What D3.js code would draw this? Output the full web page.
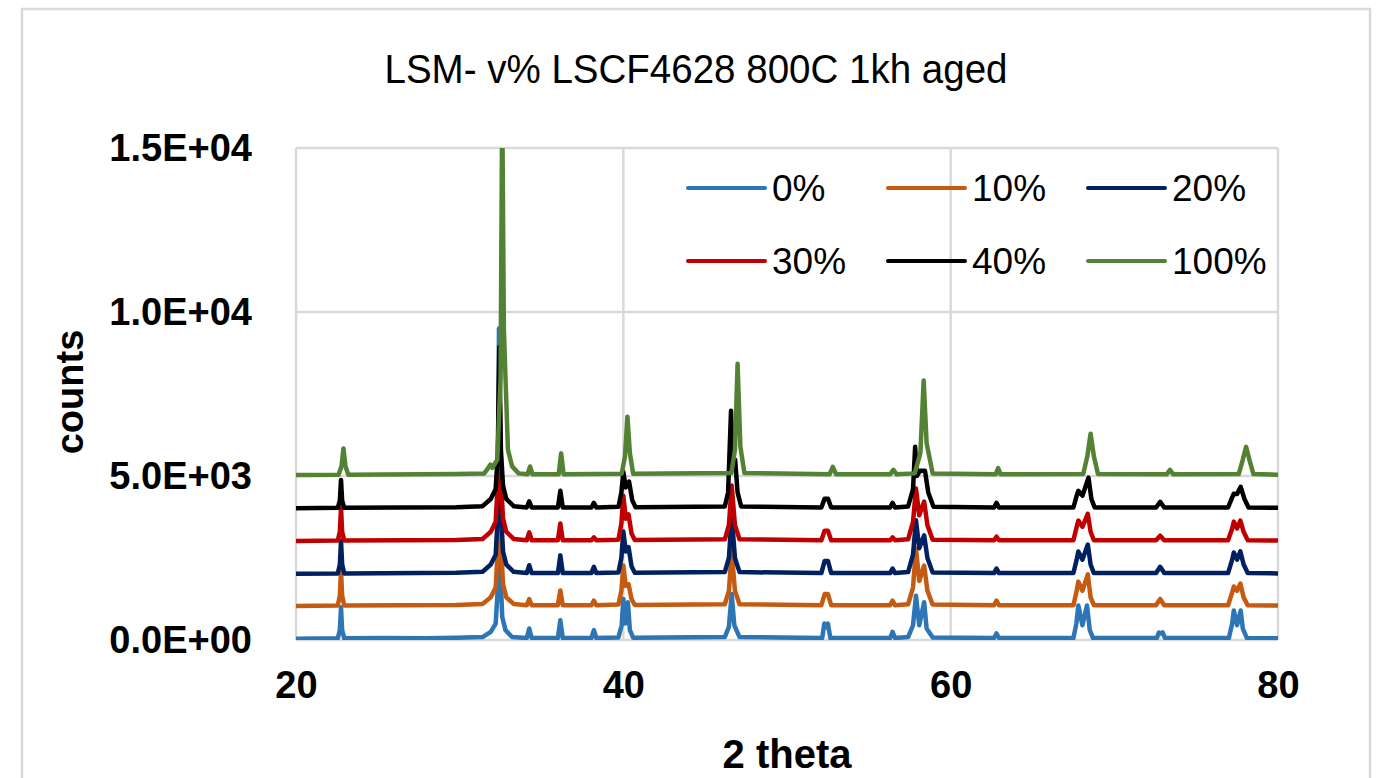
<!DOCTYPE html>
<html>
<head>
<meta charset="utf-8">
<script src="https://cdn.jsdelivr.net/npm/d3@7"></script>
<style>
    body { margin: 0; background: #fff; }
    svg { display: block; }
    text { font-family: "Liberation Sans", Arial, sans-serif; fill: #000; }
</style>
</head>
<body>
<div id="chart"></div>
<script>
// series names + colours (drawn in this order)
var seriesNames = ["0%", "10%", "20%", "30%", "40%", "100%"];
var seriesColors = ["#2e75b6", "#c55a11", "#002060", "#c00000", "#000000", "#548235"];

// axis ticks
var xTicks = [20, 40, 60, 80];
var yTicks = [0, 5000, 10000, 15000];
var yTickLabels = ["0.0E+00", "5.0E+03", "1.0E+04", "1.5E+04"];

// [2 theta, counts], each pattern offset by ~1000
var s0 = [[20,40],[22.55,50],[22.68,300],[22.75,1000],[22.82,300],[22.95,50],
    [25.3,60],[27.9,50],[29.8,70],[31.4,90],[31.9,250],[32.2,500],[32.32,1500],[32.4,9500],[32.5,2000],[32.6,700],[32.8,300],[33.2,90],
    [34.1,60],[34.25,350],[34.4,60],
    [36.0,60],[36.15,600],[36.3,60],
    [38.05,60],[38.2,300],[38.35,60],
    [39.7,80],[39.9,450],[40.0,1250],[40.12,500],[40.28,1150],[40.4,300],[40.6,70],
    [46.2,90],[46.45,400],[46.62,1400],[46.78,450],[47.1,90],
    [52.15,60],[52.28,500],[52.38,380],[52.5,500],[52.65,60],
    [56.3,60],[56.45,250],[56.6,60],
    [57.4,90],[57.7,450],[57.88,1350],[58.08,450],[58.38,1150],[58.53,350],[58.9,80],
    [62.65,60],[62.8,200],[62.95,60],
    [67.5,60],[67.68,500],[67.8,1050],[68.05,450],[68.33,1050],[68.5,300],[68.7,60],
    [72.6,60],[72.72,230],[72.85,200],[72.95,230],[73.1,60],
    [77.0,60],[77.2,500],[77.3,900],[77.5,450],[77.72,900],[77.85,350],[78.1,60],
    [80,50]];

var s10 = [[20,1040],[22.55,1050],[22.68,1350],[22.75,2120],[22.82,1350],[22.95,1050],
    [29.8,1070],[31.4,1100],[31.9,1300],[32.2,1600],[32.33,2800],[32.42,7800],[32.52,3000],[32.65,1700],[32.85,1300],[33.3,1100],
    [34.1,1060],[34.25,1250],[34.4,1060],
    [36.0,1060],[36.15,1510],[36.3,1060],
    [38.05,1060],[38.2,1200],[38.35,1060],
    [39.7,1080],[39.88,1500],[40.0,2270],[40.15,1650],[40.32,1700],[40.5,1250],[40.7,1070],
    [46.2,1090],[46.45,1500],[46.62,2700],[46.82,1500],[47.1,1090],
    [52.1,1060],[52.3,1400],[52.5,1400],[52.7,1060],
    [56.3,1060],[56.45,1200],[56.6,1060],
    [57.4,1090],[57.7,1600],[57.88,2790],[58.08,1800],[58.38,2270],[58.58,1500],[58.9,1080],
    [62.65,1060],[62.8,1200],[62.95,1060],
    [67.5,1060],[67.7,1500],[67.8,1780],[68.05,1500],[68.38,2000],[68.55,1300],[68.75,1060],
    [72.55,1060],[72.8,1250],[73.05,1060],
    [76.95,1060],[77.2,1450],[77.3,1630],[77.5,1500],[77.7,1720],[77.9,1300],[78.15,1060],
    [80,1050]];

var s20 = [[20,2020],[22.55,2030],[22.68,2300],[22.75,3030],[22.82,2300],[22.95,2030],
    [29.8,2050],[31.4,2080],[31.9,2300],[32.2,2600],[32.33,3800],[32.42,7300],[32.52,3900],[32.65,2700],[32.85,2300],[33.3,2080],
    [34.1,2040],[34.25,2280],[34.4,2040],
    [36.0,2040],[36.15,2580],[36.3,2040],
    [38.05,2040],[38.2,2230],[38.35,2040],
    [39.7,2060],[39.88,2500],[40.0,3310],[40.15,2700],[40.32,2830],[40.5,2250],[40.7,2050],
    [46.2,2070],[46.45,2500],[46.62,3800],[46.82,2500],[47.1,2070],
    [52.1,2040],[52.3,2410],[52.5,2410],[52.7,2040],
    [56.3,2040],[56.45,2180],[56.6,2040],
    [57.4,2070],[57.7,2600],[57.88,3650],[58.08,2800],[58.38,3190],[58.58,2500],[58.9,2060],
    [62.65,2040],[62.8,2180],[62.95,2040],
    [67.5,2040],[67.7,2450],[67.8,2700],[68.05,2450],[68.38,2910],[68.55,2300],[68.75,2040],
    [72.55,2040],[72.8,2230],[73.05,2040],
    [76.95,2040],[77.2,2450],[77.3,2670],[77.5,2450],[77.7,2700],[77.9,2300],[78.15,2040],
    [80,2030]];

var s30 = [[20,3020],[22.55,3030],[22.68,3300],[22.75,4030],[22.82,3300],[22.95,3030],
    [29.8,3050],[31.4,3080],[31.9,3300],[32.2,3600],[32.33,4800],[32.42,8230],[32.52,4900],[32.65,3700],[32.85,3300],[33.3,3080],
    [34.1,3040],[34.25,3280],[34.4,3040],
    [36.0,3040],[36.15,3550],[36.3,3040],
    [38.05,3040],[38.2,3130],[38.35,3040],
    [39.7,3060],[39.88,3550],[40.0,4400],[40.15,3700],[40.32,3830],[40.5,3250],[40.7,3050],
    [46.2,3070],[46.45,3500],[46.62,4710],[46.82,3500],[47.1,3070],
    [52.1,3040],[52.3,3330],[52.5,3330],[52.7,3040],
    [56.3,3040],[56.45,3130],[56.6,3040],
    [57.4,3070],[57.7,3600],[57.88,4620],[58.08,3800],[58.38,4220],[58.58,3500],[58.9,3060],
    [62.65,3040],[62.8,3150],[62.95,3040],
    [67.5,3040],[67.7,3450],[67.8,3640],[68.05,3450],[68.38,3850],[68.55,3300],[68.75,3040],
    [72.55,3040],[72.8,3180],[73.05,3040],
    [76.95,3040],[77.2,3400],[77.3,3610],[77.5,3400],[77.7,3640],[77.9,3300],[78.15,3040],
    [80,3030]];

var s40 = [[20,4020],[22.55,4030],[22.68,4250],[22.75,4880],[22.82,4250],[22.95,4030],
    [29.8,4050],[31.4,4080],[31.9,4300],[32.2,4600],[32.33,5700],[32.42,8930],[32.52,5800],[32.65,4700],[32.85,4300],[33.3,4080],
    [34.1,4040],[34.25,4230],[34.4,4040],
    [36.0,4040],[36.15,4550],[36.3,4040],
    [38.05,4040],[38.2,4180],[38.35,4040],
    [39.7,4060],[39.88,4500],[40.0,5130],[40.15,4650],[40.35,4830],[40.55,4250],[40.75,4050],
    [46.2,4070],[46.4,4500],[46.58,6990],[46.68,5200],[46.83,5500],[46.98,4500],[47.2,4070],
    [52.1,4040],[52.3,4310],[52.5,4310],[52.7,4040],
    [56.3,4040],[56.45,4180],[56.6,4040],
    [57.4,4070],[57.7,4600],[57.83,5890],[57.93,5000],[58.13,5160],[58.43,5160],[58.63,4500],[58.95,4060],
    [62.65,4040],[62.8,4180],[62.95,4040],
    [67.5,4040],[67.7,4400],[67.8,4550],[68.05,4400],[68.42,4950],[68.6,4300],[68.8,4040],
    [72.55,4040],[72.8,4210],[73.05,4040],
    [76.95,4040],[77.2,4350],[77.3,4460],[77.5,4450],[77.72,4670],[77.95,4300],[78.2,4040],
    [80,4030]];

var s100 = [[20,5030],[22.6,5040],[22.78,5300],[22.9,5840],[23.02,5300],[23.2,5040],
    [29.8,5060],[31.5,5080],[31.75,5250],[31.88,5350],[32.0,5250],[32.3,5500],[32.5,8000],[32.6,16500],[32.7,9500],[32.8,8000],[32.95,5800],[33.2,5300],[33.6,5080],
    [34.15,5050],[34.3,5290],[34.45,5050],
    [36.05,5050],[36.2,5690],[36.35,5050],
    [39.9,5070],[40.1,5600],[40.25,6810],[40.4,5700],[40.6,5070],
    [46.6,5090],[46.82,5800],[46.98,8420],[47.15,5900],[47.4,5090],
    [52.6,5050],[52.8,5280],[53.0,5050],
    [56.3,5050],[56.5,5190],[56.7,5050],
    [57.8,5080],[58.15,5700],[58.35,7910],[58.53,6000],[58.9,5080],
    [62.75,5050],[62.9,5240],[63.05,5050],
    [68.1,5060],[68.35,5600],[68.55,6290],[68.75,5600],[69.0,5060],
    [73.2,5050],[73.4,5190],[73.6,5050],
    [77.6,5060],[77.85,5500],[78.05,5890],[78.25,5500],[78.5,5060],
    [80,5040]];

var allSeries = [s0, s10, s20, s30, s40, s100];

drawChart();

function drawChart() {
    const width = 1378;
    const height = 778;
    const plot = { left: 296, right: 1278, top: 148, bottom: 640 };

    const svg = d3.select("#chart").append("svg")
        .attr("width", width)
        .attr("height", height);

    // chart area frame
    svg.append("rect")
        .attr("x", 22).attr("y", 9)
        .attr("width", 1348).attr("height", 800)
        .attr("fill", "#fff")
        .attr("stroke", "#d9d9d9")
        .attr("stroke-width", 2.5);

    const x = d3.scaleLinear().domain([20, 80]).range([plot.left, plot.right]);
    const y = d3.scaleLinear().domain([0, 15000]).range([plot.bottom, plot.top]);

    // gridlines
    svg.append("g").selectAll("line.gx")
        .data(xTicks).enter().append("line")
        .attr("x1", d => x(d)).attr("x2", d => x(d))
        .attr("y1", plot.top).attr("y2", plot.bottom)
        .attr("stroke", "#d9d9d9").attr("stroke-width", 2.5);
    svg.append("g").selectAll("line.gy")
        .data(yTicks).enter().append("line")
        .attr("x1", plot.left).attr("x2", plot.right)
        .attr("y1", d => y(d)).attr("y2", d => y(d))
        .attr("stroke", "#d9d9d9").attr("stroke-width", 2.5);

    // axes (labels only, Excel style)
    const xAxis = svg.append("g")
        .attr("transform", `translate(0,${plot.bottom})`)
        .call(d3.axisBottom(x).tickValues(xTicks).tickSize(0).tickPadding(58).tickFormat(d3.format("d")));
    xAxis.select(".domain").remove();
    xAxis.selectAll("text")
        .attr("font-size", 38).attr("font-weight", "bold")
        .attr("font-family", "'Liberation Sans', Arial, sans-serif")
        .attr("dy", "0");

    const yAxis = svg.append("g")
        .attr("transform", `translate(${plot.left},0)`)
        .call(d3.axisLeft(y).tickValues(yTicks).tickSize(0).tickPadding(44)
            .tickFormat((d, i) => yTickLabels[i]));
    yAxis.select(".domain").remove();
    yAxis.selectAll("text")
        .attr("font-size", 38).attr("font-weight", "bold")
        .attr("font-family", "'Liberation Sans', Arial, sans-serif");

    // clip lines to the plot area
    svg.append("clipPath").attr("id", "plot-clip")
        .append("rect")
        .attr("x", plot.left).attr("y", plot.top)
        .attr("width", plot.right - plot.left).attr("height", plot.bottom - plot.top);

    const line = d3.line().x(d => x(d[0])).y(d => y(d[1]));

    svg.append("g").attr("clip-path", "url(#plot-clip)")
        .selectAll("path")
        .data(allSeries).enter().append("path")
        .attr("d", line)
        .attr("fill", "none")
        .attr("stroke", (d, i) => seriesColors[i])
        .attr("stroke-width", 4.5)
        .attr("stroke-linejoin", "round");

    // title
    svg.append("text")
        .attr("x", 696).attr("y", 83)
        .attr("text-anchor", "middle")
        .attr("font-size", 41)
        .attr("textLength", 623).attr("lengthAdjust", "spacingAndGlyphs")
        .text("LSM- v% LSCF4628 800C 1kh aged");

    // axis titles
    svg.append("text")
        .attr("x", (plot.left + plot.right) / 2).attr("y", 768)
        .attr("text-anchor", "middle")
        .attr("font-size", 40).attr("font-weight", "bold")
        .text("2 theta");

    svg.append("text")
        .attr("transform", "translate(83,392) rotate(-90)")
        .attr("text-anchor", "middle")
        .attr("font-size", 38).attr("font-weight", "bold")
        .text("counts");

    // legend, 3 columns x 2 rows
    const legend = svg.append("g");
    seriesNames.forEach(function(name, i) {
        let lx = 688 + (i % 3) * 200;
        let ly = 188 + Math.floor(i / 3) * 73;
        legend.append("line")
            .attr("x1", lx).attr("x2", lx + 77)
            .attr("y1", ly).attr("y2", ly)
            .attr("stroke", seriesColors[i]).attr("stroke-width", 4)
            .attr("stroke-linecap", "round");
        legend.append("text")
            .attr("x", lx + 84).attr("y", ly + 13)
            .attr("font-size", 37)
            .text(name);
    });
}
</script>
</body>
</html>
